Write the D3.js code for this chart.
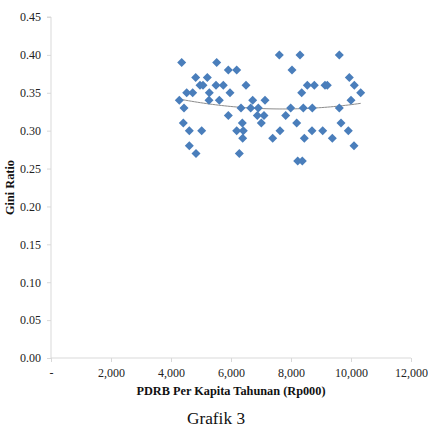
<!DOCTYPE html>
<html>
<head>
<meta charset="utf-8">
<script src="https://cdn.jsdelivr.net/npm/d3@7"></script>
<style>
  html, body { margin: 0; padding: 0; background: #fff; }
  svg { display: block; }
</style>
</head>
<body>
<div id="chart"></div>
<script>
// PDRB per kapita (Rp000) vs Gini ratio
const pdrb = [
  4357, 5523, 4823, 5210, 5910, 6190, 4967, 5067, 5500, 5743,
  6500, 4523, 4723, 5277, 5967, 4277, 5267, 5610, 6723, 7133,
  4433, 6333, 6657, 6910, 5910, 6877, 7100, 6377, 7010, 4410,
  4610, 5023, 6190, 6410, 6390, 7633, 7390, 4610, 4833, 6277,
  7610, 8300, 9610, 8033, 9943, 8543, 8777, 9133, 9210, 10110,
  8357, 10323, 10000, 7990, 8410, 8710, 9610, 7823, 8190, 9667,
  8700, 9057, 9910, 8443, 9377, 10100, 8223, 8377
]
const gini = [
  0.39, 0.39, 0.37, 0.37, 0.38, 0.38, 0.36, 0.36, 0.36, 0.36,
  0.36, 0.35, 0.35, 0.35, 0.35, 0.34, 0.34, 0.34, 0.34, 0.34,
  0.33, 0.33, 0.33, 0.33, 0.32, 0.32, 0.32, 0.31, 0.31, 0.31,
  0.30, 0.30, 0.30, 0.30, 0.29, 0.30, 0.29, 0.28, 0.27, 0.27,
  0.40, 0.40, 0.40, 0.38, 0.37, 0.36, 0.36, 0.36, 0.36, 0.36,
  0.35, 0.35, 0.34, 0.33, 0.33, 0.33, 0.33, 0.32, 0.31, 0.31,
  0.30, 0.30, 0.30, 0.29, 0.29, 0.28, 0.26, 0.26
]

const xTicks = [0, 2000, 4000, 6000, 8000, 10000, 12000]
const yTicks = [0, 0.05, 0.10, 0.15, 0.20, 0.25, 0.30, 0.35, 0.40, 0.45]

const points = pdrb.map((d, i) => ({ x: d, y: gini[i] }))

const width = 428, height = 428
const serif = "'Liberation Serif', 'Times New Roman', serif"

const svg = d3.select('#chart').append('svg')
    .attr('width', width)
    .attr('height', height)
    .attr('font-family', serif)

const x = d3.scaleLinear()
    .domain([0, 12000])
    .range([51, 411])

const y = d3.scaleLinear()
    .domain([0, 0.45])
    .range([358, 17])

const axisColor = '#d9d9d9'

// y axis
svg.append('g')
    .attr('transform', `translate(${x(0)},0)`)
    .call(d3.axisLeft(y).tickValues(yTicks).tickFormat(d3.format('.2f')).tickSize(4).tickPadding(6))
    .attr('font-family', serif)
    .attr('font-size', 12)
    .call(g => g.select('.domain').attr('stroke', axisColor).attr('d', `M-4,${y(0.45)}H0V${y(0)}`))
    .call(g => g.selectAll('.tick line').attr('stroke', axisColor))
    .call(g => g.selectAll('.tick text').attr('fill', '#222'))

// x axis
svg.append('g')
    .attr('transform', `translate(0,${y(0)})`)
    .call(d3.axisBottom(x).tickValues(xTicks)
        .tickFormat(d => d === 0 ? '-' : d3.format(',')(d))
        .tickSize(4).tickPadding(6))
    .attr('font-family', serif)
    .attr('font-size', 12)
    .call(g => g.select('.domain').attr('stroke', axisColor).attr('d', `M${x(0)},0H${x(12000)}`))
    .call(g => g.selectAll('.tick line').attr('stroke', axisColor))
    .call(g => g.selectAll('.tick text').attr('fill', '#222'))

// polynomial (order 2) trend line, least squares on the points
function quadFit(pts) {
    let s = [0, 0, 0, 0, 0], t = [0, 0, 0]
    const m = d3.mean(pts, p => p.x)
    pts.forEach(p => {
        const u = (p.x - m) / 1000
        for (let k = 0; k < 5; k++) s[k] += Math.pow(u, k)
        for (let k = 0; k < 3; k++) t[k] += p.y * Math.pow(u, k)
    })
    // solve 3x3 normal equations
    const A = [[s[0], s[1], s[2], t[0]], [s[1], s[2], s[3], t[1]], [s[2], s[3], s[4], t[2]]]
    for (let i = 0; i < 3; i++) {
        for (let j = i + 1; j < 3; j++) {
            const f = A[j][i] / A[i][i]
            for (let k = i; k < 4; k++) A[j][k] -= f * A[i][k]
        }
    }
    const c = [0, 0, 0]
    for (let i = 2; i >= 0; i--) {
        let v = A[i][3]
        for (let k = i + 1; k < 3; k++) v -= A[i][k] * c[k]
        c[i] = v / A[i][i]
    }
    return xv => { const u = (xv - m) / 1000; return c[0] + c[1] * u + c[2] * u * u }
}

const fit = quadFit(points)
const [xMin, xMax] = d3.extent(pdrb)
const trend = d3.range(xMin, xMax, (xMax - xMin) / 60).concat([xMax]).map(v => ({ x: v, y: fit(v) }))

svg.append('path')
    .datum(trend)
    .attr('fill', 'none')
    .attr('stroke', '#8c8c8c')
    .attr('stroke-width', 1)
    .attr('d', d3.line().x(d => x(d.x)).y(d => y(d.y)))

// diamond markers
const r = 4.5
svg.append('g')
    .selectAll('path')
    .data(points)
    .join('path')
    .attr('transform', d => `translate(${x(d.x)},${y(d.y)})`)
    .attr('d', `M0,${-r}L${r},0L0,${r}L${-r},0Z`)
    .attr('fill', '#4a7ebb')

// axis titles
svg.append('text')
    .attr('x', (x(0) + x(12000)) / 2)
    .attr('y', 395)
    .attr('text-anchor', 'middle')
    .attr('font-size', 12.3)
    .attr('font-weight', 'bold')
    .attr('fill', '#111')
    .text('PDRB Per Kapita Tahunan (Rp000)')

svg.append('text')
    .attr('transform', `translate(14,${(y(0) + y(0.45)) / 2}) rotate(-90)`)
    .attr('text-anchor', 'middle')
    .attr('font-size', 12.3)
    .attr('font-weight', 'bold')
    .attr('fill', '#111')
    .text('Gini Ratio')

svg.append('text')
    .attr('x', 216)
    .attr('y', 424)
    .attr('text-anchor', 'middle')
    .attr('font-size', 17.3)
    .attr('fill', '#111')
    .text('Grafik 3')
</script>
</body>
</html>
